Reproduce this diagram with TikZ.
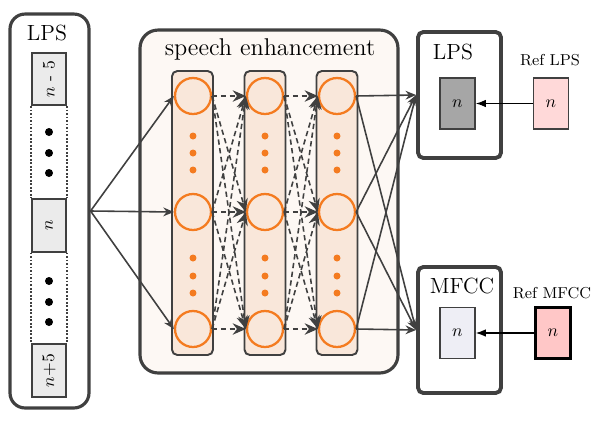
\documentclass[tikz,border=0pt]{standalone}
\usepackage{amsmath}
\usepackage{tikz}
\usetikzlibrary{arrows.meta}
\definecolor{linegray}{HTML}{404040}
\definecolor{nrnorange}{HTML}{F47B20}
\definecolor{layerfill}{HTML}{F9E7DA}
\definecolor{sefill}{HTML}{FDF8F4}
\definecolor{mfccfill}{HTML}{EEEEF5}
\tikzstyle{frame}=[draw=linegray, line width=1.8pt, inner sep=0pt]
\tikzstyle{feat}=[draw=linegray, line width=1pt, inner sep=0pt, minimum width=0.68cm, minimum height=1.05cm]
\tikzstyle{layer}=[draw=linegray, fill=layerfill, line width=1.1pt, rounded corners=3pt, minimum width=0.82cm, minimum height=5.68cm]
\tikzstyle{neuron}=[draw=nrnorange, circle, line width=1.3pt, fill=layerfill, inner sep=0pt, minimum size=0.72cm]
\tikzstyle{odot}=[circle, fill=nrnorange, inner sep=0pt, minimum size=0.14cm]
\tikzstyle{bdot}=[circle, fill=black, inner sep=0pt, minimum size=0.16cm]
\tikzstyle{conn}=[draw=linegray, line width=0.9pt, -{Stealth[length=6pt,width=5pt]}]
\tikzstyle{dconn}=[draw=linegray, line width=0.9pt, densely dashed, -{Stealth[length=7.5pt,width=6.5pt]}]

\begin{document}
\begin{tikzpicture}[x=0.02cm, y=-0.02cm]
        \useasboundingbox (0, 0) rectangle (596, 420);
        % input frames
        \node[frame, rounded corners=0.3cm, minimum width=1.58cm, minimum height=7.88cm] (LPSin) at (49.5, 211) {};
        \node[font=\fontsize{12.5}{14}\selectfont] (LPSinl) at (47, 33) {LPS};
        \node[feat, fill=black!8] (Fm5) at (49, 79) {};
        \node[rotate=90] at (Fm5) {\(n\) - 5};
        \node[feat, fill=black!8] (Fn) at (49, 225.5) {};
        \node[rotate=90] at (Fn) {\(n\)};
        \node[feat, fill=black!8] (Fp5) at (49, 370.5) {};
        \node[rotate=90] at (Fp5) {\(n\)+5};
        \draw[densely dotted, line width=1pt, draw=linegray] (Fm5.south west) -- (Fn.north west);
        \draw[densely dotted, line width=1pt, draw=linegray] (Fm5.south east) -- (Fn.north east);
        \draw[densely dotted, line width=1pt, draw=linegray] (Fn.south west) -- (Fp5.north west);
        \draw[densely dotted, line width=1pt, draw=linegray] (Fn.south east) -- (Fp5.north east);
        \node[bdot] (D1) at (49, 132) {};
        \node[bdot] (D2) at (49, 153) {};
        \node[bdot] (D3) at (49, 173) {};
        \node[bdot] (D4) at (49, 281) {};
        \node[bdot] (D5) at (49, 302) {};
        \node[bdot] (D6) at (49, 322) {};
        % speech enhancement network
        \node[frame, fill=sefill, rounded corners=0.36cm, minimum width=5.16cm, minimum height=6.86cm] (SE) at (269, 201.5) {};
        \node[font=\fontsize{13.8}{16}\selectfont] (SEl) at (270, 49) {speech enhancement};
        \node[layer] (L1) at (192.5, 213) {};
        \node[layer] (L2) at (265, 213) {};
        \node[layer] (L3) at (337, 213) {};
        \node[neuron] (A1) at (193, 96) {};
        \node[neuron] (A2) at (193, 212) {};
        \node[neuron] (A3) at (193, 329) {};
        \node[neuron] (B1) at (265, 96) {};
        \node[neuron] (B2) at (265, 212) {};
        \node[neuron] (B3) at (265, 329) {};
        \node[neuron] (C1) at (337, 96) {};
        \node[neuron] (C2) at (337, 212) {};
        \node[neuron] (C3) at (337, 329) {};
        \node[odot] (oa1) at (193, 136) {};
        \node[odot] (oa2) at (193, 153) {};
        \node[odot] (oa3) at (193, 170) {};
        \node[odot] (oa4) at (193, 258) {};
        \node[odot] (oa5) at (193, 276) {};
        \node[odot] (oa6) at (193, 293) {};
        \node[odot] (ob1) at (265, 136) {};
        \node[odot] (ob2) at (265, 153) {};
        \node[odot] (ob3) at (265, 170) {};
        \node[odot] (ob4) at (265, 258) {};
        \node[odot] (ob5) at (265, 276) {};
        \node[odot] (ob6) at (265, 293) {};
        \node[odot] (oc1) at (337, 136) {};
        \node[odot] (oc2) at (337, 153) {};
        \node[odot] (oc3) at (337, 170) {};
        \node[odot] (oc4) at (337, 258) {};
        \node[odot] (oc5) at (337, 276) {};
        \node[odot] (oc6) at (337, 293) {};
        % input to first layer
        \draw[conn] (LPSin.east) -- (A1.west);
        \draw[conn] (LPSin.east) -- (A2.west);
        \draw[conn] (LPSin.east) -- (A3.west);
        % first to second layer
        \draw[dconn] (A1.east) -- (B1.west);
        \draw[dconn] (A1.east) -- (B2.west);
        \draw[dconn] (A1.east) -- (B3.west);
        \draw[dconn] (A2.east) -- (B1.west);
        \draw[dconn] (A2.east) -- (B2.west);
        \draw[dconn] (A2.east) -- (B3.west);
        \draw[dconn] (A3.east) -- (B1.west);
        \draw[dconn] (A3.east) -- (B2.west);
        \draw[dconn] (A3.east) -- (B3.west);
        % second to third layer
        \draw[dconn] (B1.east) -- (C1.west);
        \draw[dconn] (B1.east) -- (C2.west);
        \draw[dconn] (B1.east) -- (C3.west);
        \draw[dconn] (B2.east) -- (C1.west);
        \draw[dconn] (B2.east) -- (C2.west);
        \draw[dconn] (B2.east) -- (C3.west);
        \draw[dconn] (B3.east) -- (C1.west);
        \draw[dconn] (B3.east) -- (C2.west);
        \draw[dconn] (B3.east) -- (C3.west);
        % outputs
        \node[frame, line width=2.2pt, rounded corners=3pt, minimum width=1.66cm, minimum height=2.52cm] (LPSout) at (459.5, 95) {};
        \node[font=\fontsize{12.5}{14}\selectfont] (LPSoutl) at (453, 52) {LPS};
        \node[feat, fill=black!35, minimum width=0.7cm, minimum height=1.02cm] (Lo) at (457.5, 103.5) {\(n\)};
        \node[frame, line width=2.2pt, rounded corners=3pt, minimum width=1.66cm, minimum height=2.52cm] (MFCCout) at (459.5, 330) {};
        \node[font=\fontsize{12.5}{14}\selectfont] (MFCCoutl) at (462, 286) {MFCC};
        \node[feat, fill=mfccfill, minimum width=0.7cm, minimum height=1.02cm] (Mo) at (457.5, 333) {\(n\)};
        \draw[conn] (C1.east) -- (LPSout.west);
        \draw[conn] (C2.east) -- (LPSout.west);
        \draw[conn] (C3.east) -- (LPSout.west);
        \draw[conn] (C1.east) -- (MFCCout.west);
        \draw[conn] (C2.east) -- (MFCCout.west);
        \draw[conn] (C3.east) -- (MFCCout.west);
        % references
        \node[feat, fill=red!15, minimum width=0.7cm, minimum height=1.02cm] (RefL) at (551, 103.5) {\(n\)};
        \node[font=\fontsize{9}{10}\selectfont] (RefLl) at (550, 60) {Ref LPS};
        \node[feat, draw=black, line width=1.4pt, fill=red!22, minimum width=0.7cm, minimum height=1.02cm] (RefM) at (553, 333) {\(n\)};
        \node[font=\fontsize{9}{10}\selectfont] (RefMl) at (552, 293) {Ref MFCC};
        \draw[-{Latex}, line width=0.6pt] (RefL.west) -- (Lo.east);
        \draw[-{Latex}, line width=0.6pt] (RefM.west) -- (Mo.east);
    \end{tikzpicture}
\end{document}
